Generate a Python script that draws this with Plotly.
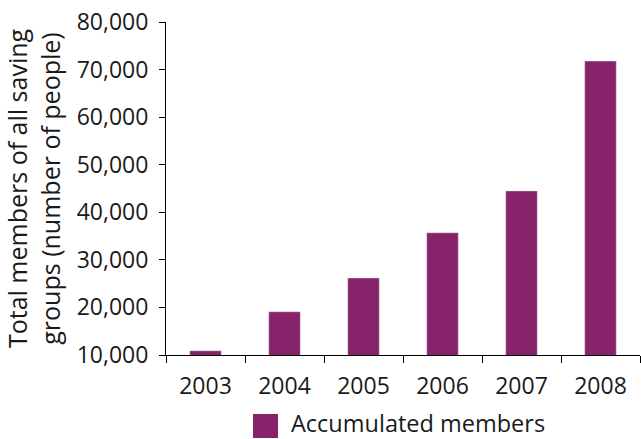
import plotly.graph_objects as go

years = ["2003", "2004", "2005", "2006", "2007", "2008"]
members = [10900, 19100, 26200, 35700, 44500, 71800]
y_ticks = [10000, 20000, 30000, 40000, 50000, 60000, 70000, 80000]
y_tick_labels = ["10,000", "20,000", "30,000", "40,000", "50,000", "60,000", "70,000", "80,000"]
series_name = "Accumulated members"
y_title = "Total members of all saving<br>groups (number of people)"

color = "#87236B"
fam = "Open Sans"
tick_font = dict(family=fam, size=23, color="#1a1a1a")
title_font = dict(family=fam, size=25, color="#1a1a1a")
legend_font = dict(family=fam, size=23.5, color="#1a1a1a")

fig = go.Figure()
fig.add_trace(go.Bar(x=years, y=members, name=series_name, marker_color=color,
                     showlegend=False, width=0.4))

fig.update_layout(
    width=641, height=439,
    margin=dict(l=166, r=1, t=22, b=84),
    paper_bgcolor="white", plot_bgcolor="white",
    font=tick_font,
    xaxis=dict(showline=True, linecolor="black", linewidth=1, ticks="outside",
               tickson="boundaries", ticklen=7, tickcolor="black", showgrid=False,
               tickfont=tick_font, ticklabelstandoff=10),
    yaxis=dict(range=[10000, 80000], tickvals=y_ticks, ticktext=y_tick_labels,
               showline=True, linecolor="black", linewidth=1, ticks="outside",
               ticklen=6, tickcolor="black", showgrid=False, zeroline=False,
               tickfont=tick_font, ticklabelstandoff=6,
               title=dict(text=y_title, font=title_font, standoff=10)),
)

# legend drawn manually to match the large swatch
fig.add_shape(type="rect", xref="paper", yref="paper",
              x0=(253 - 166) / 474, x1=(278 - 166) / 474,
              y0=(355 - 438) / 333, y1=(355 - 414) / 333,
              fillcolor=color, line_width=0)
fig.add_annotation(xref="paper", yref="paper", x=(290 - 166) / 474, y=(355 - 423) / 333,
                   text=series_name, showarrow=False, xanchor="left", yanchor="middle",
                   font=legend_font, borderpad=0)

fig.write_html("out.html", config={"displayModeBar": False},
               post_script="document.body.style.margin='0';")
